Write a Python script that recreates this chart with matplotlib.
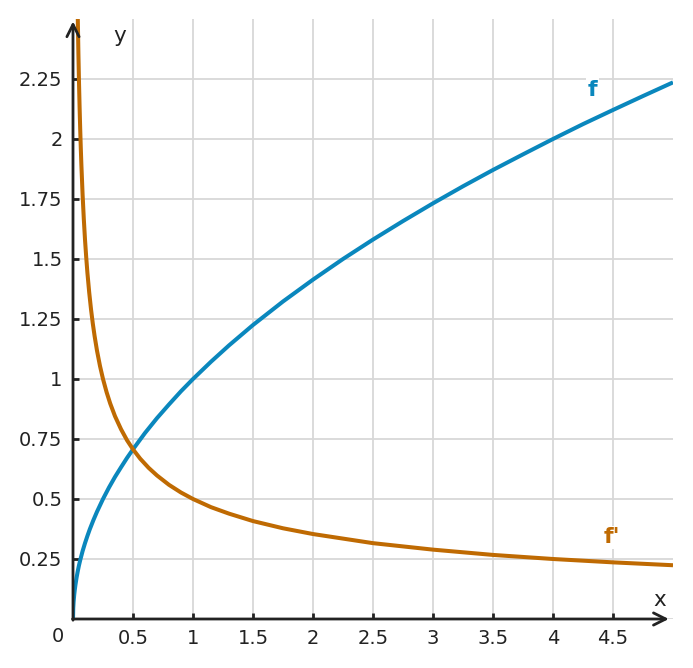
import matplotlib
matplotlib.use("Agg")
import matplotlib.pyplot as plt

# points
x_f = [0, 0.002, 0.005, 0.01, 0.015, 0.02, 0.03, 0.04, 0.05, 0.06, 0.08, 0.1, 0.12, 0.14, 0.17, 0.2,
       0.25, 0.3, 0.35, 0.4, 0.45, 0.5, 0.6, 0.7, 0.8, 0.9, 1.0, 1.15, 1.3, 1.5, 1.75, 2.0, 2.25,
       2.5, 2.75, 3.0, 3.25, 3.5, 3.75, 4.0, 4.25, 4.5, 4.75, 5.0]
y_f = [0, 0.045, 0.071, 0.10, 0.122, 0.141, 0.173, 0.20, 0.224, 0.245, 0.283, 0.316, 0.346, 0.374, 0.412, 0.447,
       0.50, 0.548, 0.592, 0.632, 0.671, 0.707, 0.775, 0.837, 0.894, 0.949, 1.0, 1.072, 1.14, 1.225, 1.323, 1.414, 1.5,
       1.581, 1.658, 1.732, 1.803, 1.871, 1.936, 2.0, 2.062, 2.121, 2.179, 2.236]

x_df = [0.035, 0.04, 0.045, 0.05, 0.055, 0.06, 0.065, 0.07, 0.08, 0.09, 0.1, 0.11, 0.12, 0.135, 0.15, 0.165,
        0.18, 0.2, 0.225, 0.25, 0.28, 0.31, 0.35, 0.4, 0.45, 0.5, 0.56, 0.63, 0.7, 0.8, 0.9, 1.0, 1.15, 1.3,
        1.5, 1.75, 2.0, 2.5, 3.0, 3.5, 4.0, 4.5, 5.0]
y_df = [2.67, 2.5, 2.357, 2.236, 2.132, 2.041, 1.961, 1.89, 1.768, 1.667, 1.581, 1.508, 1.443, 1.361, 1.291, 1.231,
        1.179, 1.118, 1.054, 1.0, 0.945, 0.898, 0.845, 0.791, 0.745, 0.707, 0.668, 0.63, 0.598, 0.559, 0.527, 0.5,
        0.466, 0.439, 0.408, 0.378, 0.354, 0.316, 0.289, 0.267, 0.25, 0.236, 0.224]

x_ticks = [0.5, 1, 1.5, 2, 2.5, 3, 3.5, 4, 4.5]
y_ticks = [0.25, 0.5, 0.75, 1, 1.25, 1.5, 1.75, 2, 2.25]

blue = "#0a87bd"
orange = "#bf6a02"
ink = "#222222"

fig = plt.figure(figsize=(6.93, 6.68), dpi=100)
ax = fig.add_axes([73 / 693, 49 / 668, 600 / 693, 600 / 668])
ax.set_xlim(0, 5)
ax.set_ylim(0, 2.5)

for s in ax.spines.values():
    s.set_visible(False)

ax.set_xticks(x_ticks)
ax.set_xticklabels([f"{t:g}" for t in x_ticks])
ax.set_yticks(y_ticks)
ax.set_yticklabels([f"{t:g}" for t in y_ticks])
ax.tick_params(direction="in", length=4, width=2, color=ink, labelcolor=ink,
               labelsize=14, pad=7.5)
ax.grid(True, color="#d8d8d8", lw=1.3, zorder=0)
ax.axhline(0, color="#d8d8d8", lw=1.3, zorder=0)

ax.plot(x_f, y_f, color=blue, lw=2.9, solid_capstyle="butt", solid_joinstyle="round", zorder=3)
ax.plot(x_df, y_df, color=orange, lw=2.9, solid_capstyle="butt", solid_joinstyle="round", zorder=3)

# axes with arrows
ax.annotate("", xy=(4.965, 0), xytext=(-0.004, 0),
            arrowprops=dict(arrowstyle="->", lw=2, color=ink, mutation_scale=22,
                            shrinkA=0, shrinkB=0), annotation_clip=False, zorder=4)
ax.annotate("", xy=(0, 2.49), xytext=(0, -0.005),
            arrowprops=dict(arrowstyle="->", lw=2, color=ink, mutation_scale=22,
                            shrinkA=0, shrinkB=0), annotation_clip=False, zorder=4)

ax.text(0.39, 2.43, "y", fontsize=15.5, color=ink, ha="center", va="center")
ax.text(4.89, 0.08, "x", fontsize=15.5, color=ink, ha="center", va="center")
ax.text(-0.13, -0.075, "0", fontsize=14, color=ink, ha="center", va="center")

ax.text(4.33, 2.205, "f", fontsize=16, fontweight="bold", color=blue, ha="center", va="center",
        bbox=dict(facecolor="white", edgecolor="none", pad=1), zorder=5)
ax.text(4.49, 0.34, "f'", fontsize=16, fontweight="bold", color=orange, ha="center", va="center",
        bbox=dict(facecolor="white", edgecolor="none", pad=1), zorder=5)

fig.savefig("out.png", dpi=100)
